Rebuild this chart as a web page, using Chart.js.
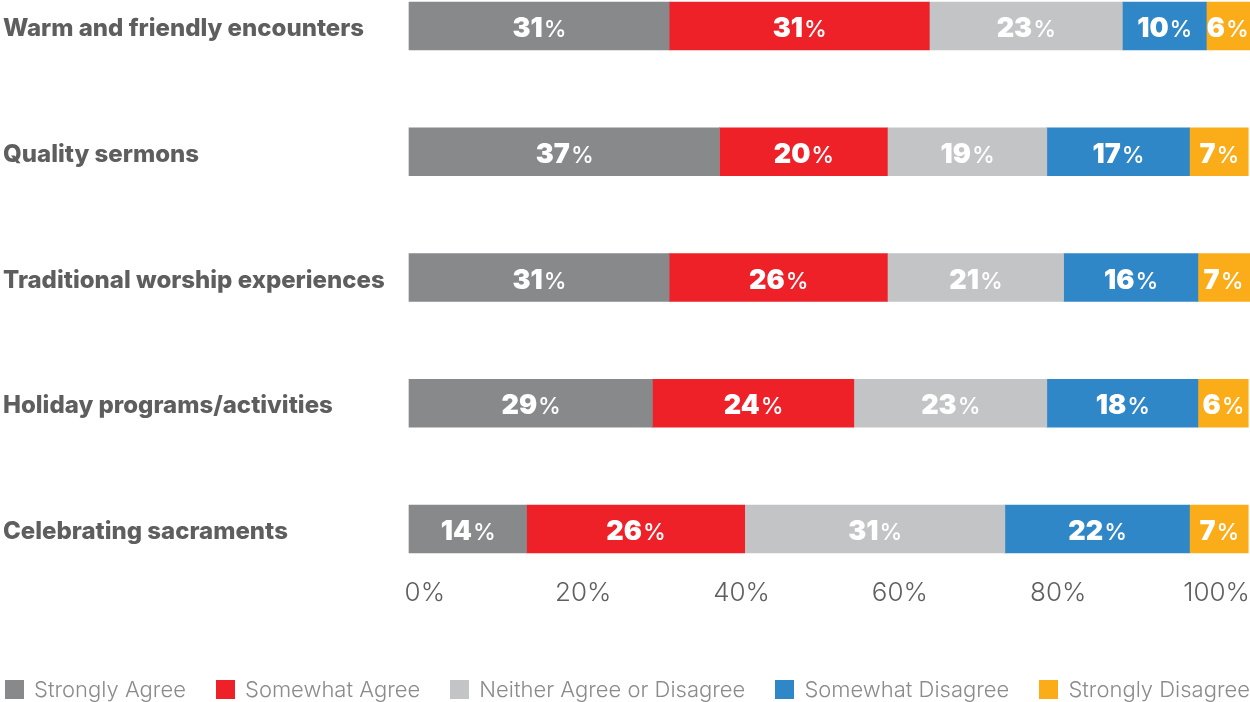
<!DOCTYPE html>
<html>
<head>
<meta charset="utf-8">
<script src="https://cdn.jsdelivr.net/npm/chart.js@4.4.1/dist/chart.umd.min.js"></script>
<style>
  body { margin: 0; background: #fff; }
  #wrap { position: relative; width: 1250px; height: 702px; }
  #legend {
    position: absolute; left: 5px; top: 679px; width: 1245px;
    display: flex; justify-content: space-between;
    font-family: Inter, "Open Sans", sans-serif; font-weight: 300; font-size: 22px;
    color: #8b8b8b; line-height: 20px;
  }
  #legend span.item { display: flex; align-items: center; white-space: nowrap; }
  #legend span.box { display: inline-block; width: 19px; height: 19px; margin-right: 10px; }
</style>
</head>
<body>
<div id="wrap">
  <canvas id="chart"></canvas>
  <div id="legend"></div>
</div>
<script>
var categories = ['Warm and friendly encounters', 'Quality sermons', 'Traditional worship experiences', 'Holiday programs/activities', 'Celebrating sacraments']
var stronglyAgree = [31, 37, 31, 29, 14]
var somewhatAgree = [31, 20, 26, 24, 26]
var neither = [23, 19, 21, 23, 31]
var somewhatDisagree = [10, 17, 16, 18, 22]
var stronglyDisagree = [6, 7, 7, 6, 7]
var tickValues = [0, 20, 40, 60, 80, 100]

const FONT = "Inter, 'Open Sans', sans-serif"
Chart.defaults.font.family = FONT

const series = [
    { label: 'Strongly Agree', data: stronglyAgree, color: '#88898b' },
    { label: 'Somewhat Agree', data: somewhatAgree, color: '#ee2129' },
    { label: 'Neither Agree or Disagree', data: neither, color: '#c3c4c6' },
    { label: 'Somewhat Disagree', data: somewhatDisagree, color: '#2f87c8' },
    { label: 'Strongly Disagree', data: stronglyDisagree, color: '#fbac19' },
]

// white "NN%" in the middle of each segment, number heavy and % lighter
const pctLabels = {
    id: 'pctLabels',
    afterDatasetsDraw(chart) {
        const ctx = chart.ctx
        const area = chart.chartArea
        ctx.save()
        ctx.fillStyle = '#fff'
        ctx.textBaseline = 'alphabetic'
        ctx.textAlign = 'left'
        chart.data.datasets.forEach((ds, i) => {
            chart.getDatasetMeta(i).data.forEach((bar, j) => {
                const left = Math.min(bar.base, bar.x)
                const right = Math.min(Math.max(bar.base, bar.x), area.right)
                const cx = (left + right) / 2
                const num = String(ds.data[j])
                ctx.font = '900 27px ' + FONT
                const w1 = ctx.measureText(num).width
                ctx.font = '500 23px ' + FONT
                const w2 = ctx.measureText('%').width
                const x = cx - (w1 + w2) / 2
                const y = bar.y + 11
                ctx.font = '900 27px ' + FONT
                ctx.fillText(num, x, y)
                ctx.font = '500 23px ' + FONT
                ctx.fillText('%', x + w1 + 1, y)
            })
        })
        ctx.restore()
    }
}

// legend laid out as html so it can span the full width
const htmlLegend = {
    id: 'htmlLegend',
    afterUpdate(chart) {
        const box = document.getElementById('legend')
        box.innerHTML = ''
        chart.data.datasets.forEach(ds => {
            const item = document.createElement('span')
            item.className = 'item'
            const sw = document.createElement('span')
            sw.className = 'box'
            sw.style.background = ds.backgroundColor
            item.appendChild(sw)
            item.appendChild(document.createTextNode(ds.label))
            box.appendChild(item)
        })
    }
}

new Chart(document.getElementById('chart'), {
    type: 'bar',
    data: {
        labels: categories,
        datasets: series.map(s => ({
            label: s.label,
            data: s.data,
            backgroundColor: s.color,
            borderWidth: 0,
            barThickness: 48,
            clip: false,
            xAxisID: 'x',
        })),
    },
    options: {
        indexAxis: 'y',
        responsive: true,
        maintainAspectRatio: false,
        animation: false,
        layout: { autoPadding: false, padding: { left: 3, top: 26, right: 0, bottom: 93 } },
        plugins: {
            legend: { display: false },
            tooltip: { enabled: false },
        },
        scales: {
            x: { stacked: true, min: 0, max: 100, display: false },
            // axis used only for the percentage labels under the bars
            x2: {
                type: 'linear',
                position: 'bottom',
                min: -2,
                max: 104,
                // hidden tick marks give the gap between bars and labels
                grid: { display: false, drawTicks: true, tickLength: 49 },
                border: { display: false },
                afterBuildTicks: s => { s.ticks = tickValues.map(v => ({ value: v })) },
                afterFit: s => { s.height = 80 },
                ticks: {
                    padding: 0,
                    color: '#5f5f5f',
                    font: { size: 26, weight: 300 },
                    callback: v => v + '%',
                },
            },
            y: {
                type: 'category',
                stacked: true,
                offset: false,
                grid: { display: false },
                border: { display: false },
                afterFit: s => { s.width = 406 },
                ticks: {
                    crossAlign: 'far',
                    labelOffset: 3,
                    color: '#5e5e5e',
                    font: { size: 24, weight: 800 },
                },
            },
        },
    },
    plugins: [pctLabels, htmlLegend],
})
</script>
</body>
</html>
